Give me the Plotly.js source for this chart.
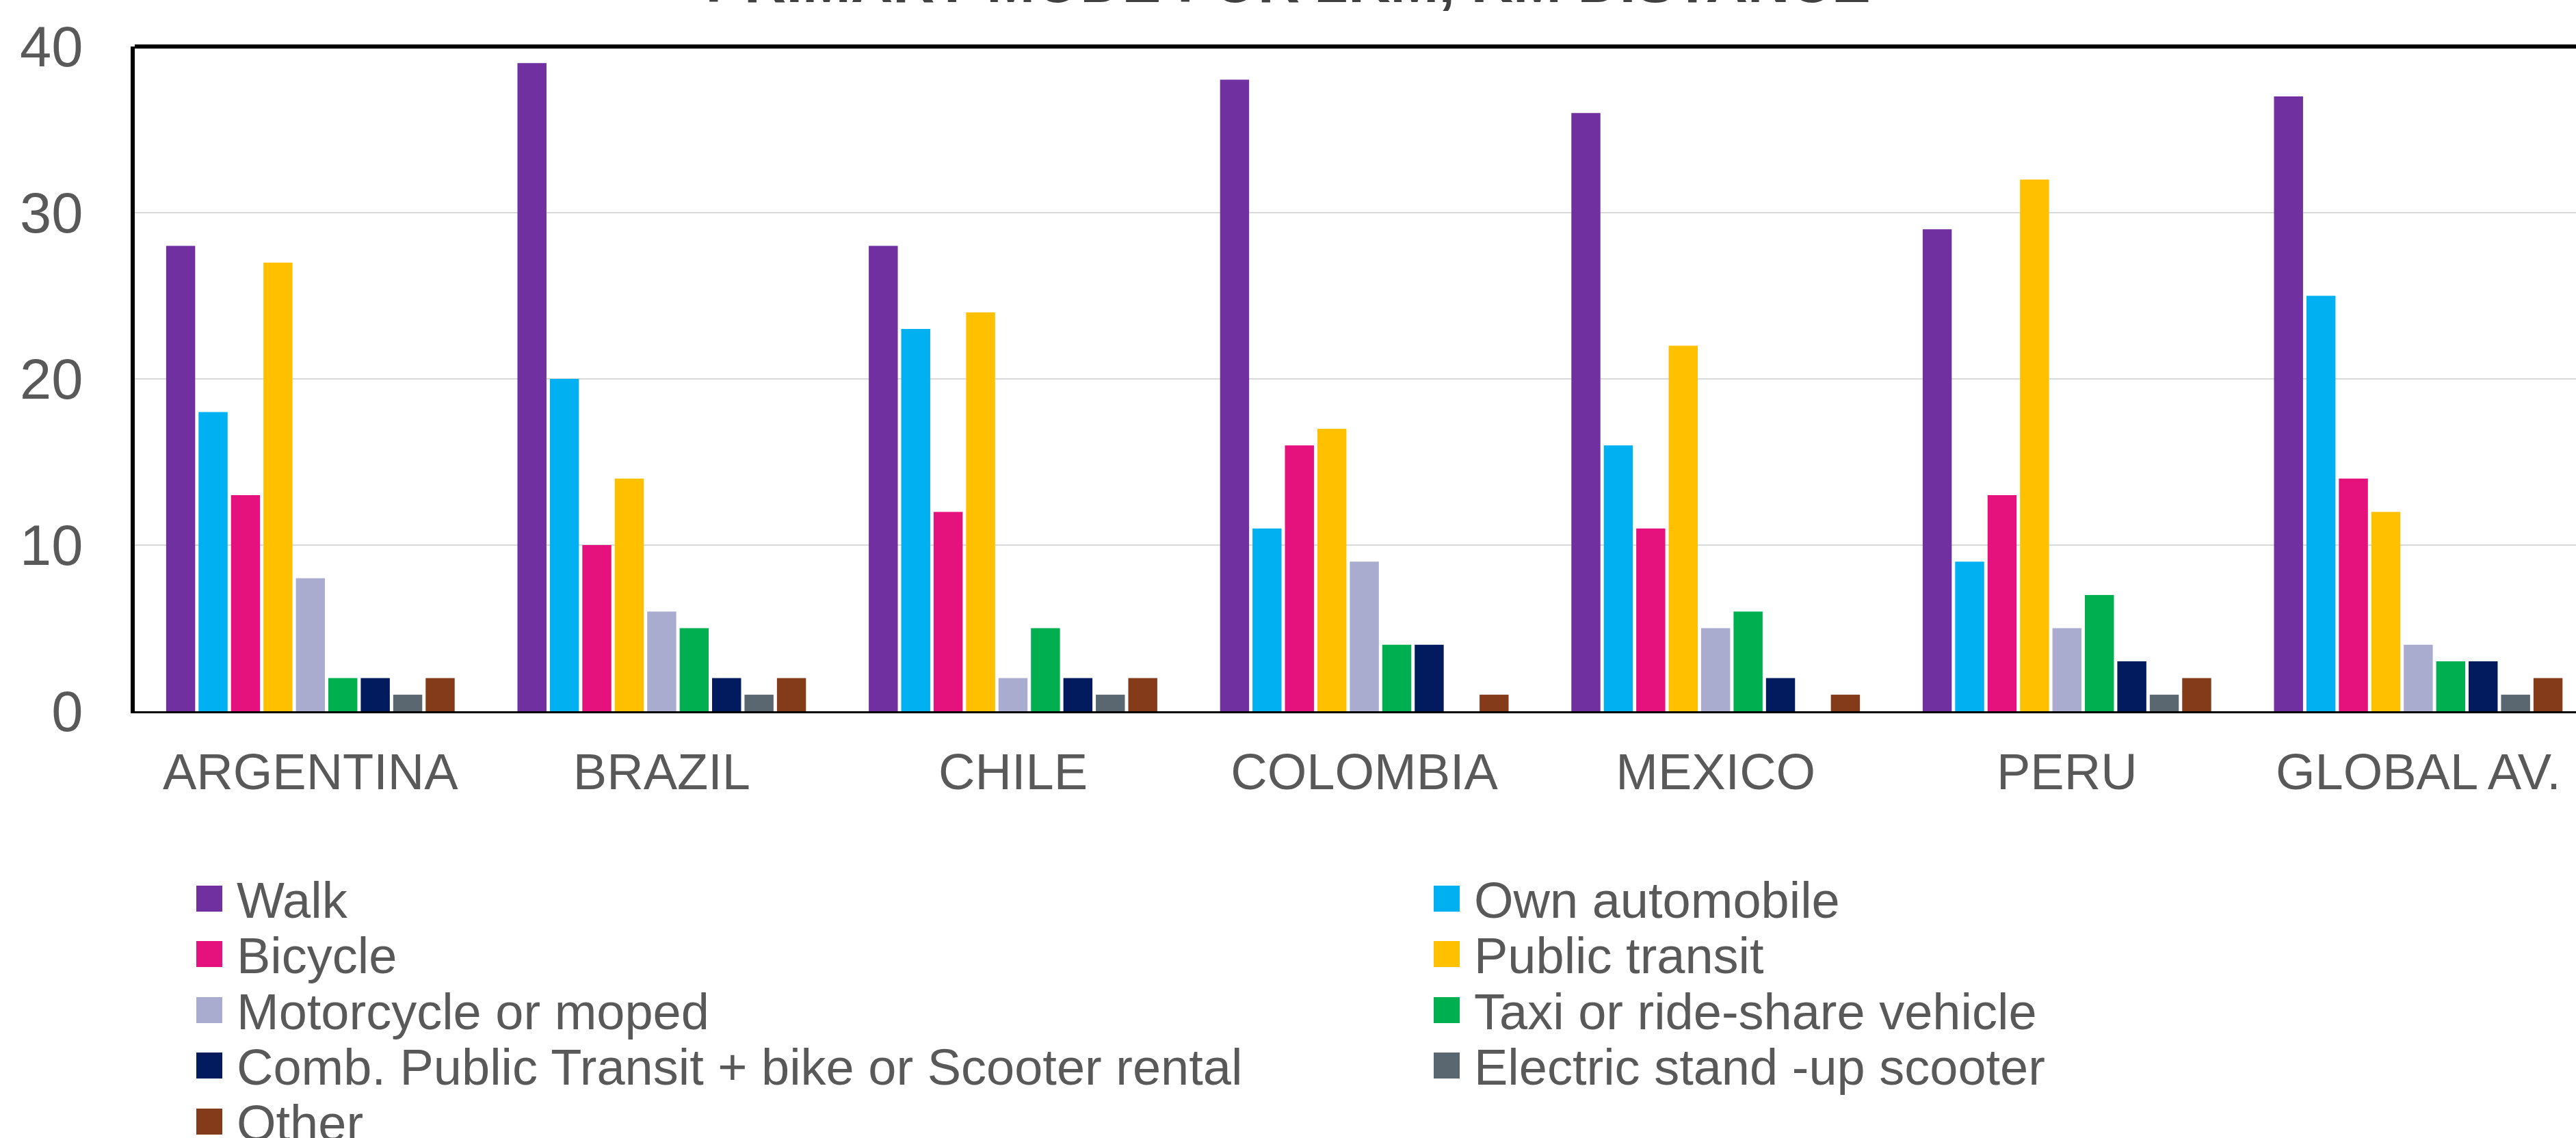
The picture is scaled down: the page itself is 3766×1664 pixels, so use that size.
<!DOCTYPE html>
<html>
<head>
<meta charset="utf-8">
<script src="https://cdn.plot.ly/plotly-3.0.1.min.js"></script>
<style>html,body{margin:0;padding:0;background:#fff;}#chart{width:3766px;height:1664px;}</style>
</head>
<body>
<div id="chart"></div>
<script>
// ---- data ----
var categories = ['ARGENTINA', 'BRAZIL', 'CHILE', 'COLOMBIA', 'MEXICO', 'PERU', 'GLOBAL AV.'];
var seriesNames = ['Walk', 'Own automobile', 'Bicycle', 'Public transit', 'Motorcycle or moped',
  'Taxi or ride-share vehicle', 'Comb. Public Transit + bike or Scooter rental', 'Electric stand -up scooter', 'Other'];
var walk        = [28, 39, 28, 38, 36, 29, 37];
var ownAuto     = [18, 20, 23, 11, 16, 9, 25];
var bicycle     = [13, 10, 12, 16, 11, 13, 14];
var publicTr    = [27, 14, 24, 17, 22, 32, 12];
var motorcycle  = [8, 6, 2, 9, 5, 5, 4];
var taxi        = [2, 5, 5, 4, 6, 7, 3];
var combined    = [2, 2, 2, 4, 2, 3, 3];
var scooter     = [1, 1, 1, 0, 0, 1, 1];
var other       = [2, 2, 2, 1, 1, 2, 2];
var yTicks      = [0, 10, 20, 30, 40];
var titleText   = 'PRIMARY MODE FOR 2KM, KM DISTANCE';

var seriesValues = [walk, ownAuto, bicycle, publicTr, motorcycle, taxi, combined, scooter, other];
var colors = ['#7030A0', '#00B0F0', '#E5117D', '#FFC000', '#A9ACCF', '#00B050', '#021A5E', '#5B6770', '#843B19'];

// ---- layout geometry (pixels) ----
var W = 3766, H = 1664;
var mL = 197, mT = 68, mB = 624, mR = 0;
var plotW = W - mL - mR, plotH = H - mT - mB;
function px2x(p) { return (p - mL) / plotW; }
function px2y(p) { return (H - mB - p) / plotH; }

var FONT = 'Liberation Sans, Arial, sans-serif';
var GREY = '#595959';

var traces = seriesNames.map(function (name, i) {
  return {
    type: 'bar', name: name, x: categories, y: seriesValues[i],
    marker: { color: colors[i], line: { width: 0 } },
    showlegend: false, hoverinfo: 'x+y+name'
  };
});

// legend drawn as swatches + labels (two columns, row-wise order)
var colX = [287, 2096];
var rowY = [1314, 1395, 1477, 1558, 1640];
var sw = 38, textGap = 22;
var shapes = [];
var annotations = [];
seriesNames.forEach(function (name, i) {
  var col = i % 2, row = Math.floor(i / 2);
  var x0 = colX[col], yc = rowY[row];
  shapes.push({
    type: 'rect', xref: 'paper', yref: 'paper',
    x0: px2x(x0), x1: px2x(x0 + sw), y0: px2y(yc + sw / 2), y1: px2y(yc - sw / 2),
    fillcolor: colors[i], line: { width: 0 }
  });
  annotations.push({
    xref: 'paper', yref: 'paper', x: px2x(x0 + sw + textGap - 2), y: px2y(yc + 2),
    xanchor: 'left', yanchor: 'middle', showarrow: false, text: name,
    font: { family: FONT, size: 74, color: GREY }, borderpad: 0
  });
});
// top frame line of the plot area
shapes.push({ type: 'line', xref: 'paper', yref: 'paper', x0: 0, x1: 1, y0: 1, y1: 1,
  line: { color: '#000000', width: 6 } });

var layout = {
  width: W, height: H,
  margin: { l: mL, r: mR, t: mT, b: mB, pad: 0 },
  paper_bgcolor: '#ffffff', plot_bgcolor: '#ffffff',
  font: { family: FONT, color: GREY },
  title: {
    text: titleText, x: 0.5, xref: 'container', xanchor: 'center',
    y: 1, yref: 'paper', yanchor: 'bottom', pad: { b: 65 },
    font: { family: FONT, size: 85, color: '#404040', weight: 'bold' }
  },
  barmode: 'group', bargap: 0.169, bargroupgap: 0.105,
  showlegend: false,
  xaxis: {
    type: 'category', range: [-0.5, 6.449], fixedrange: true,
    showline: true, linecolor: '#000000', linewidth: 3,
    showgrid: false, ticks: '', ticklabelstandoff: 22,
    tickfont: { family: FONT, size: 74, color: GREY }
  },
  yaxis: {
    range: [0, 40], tickvals: yTicks, ticktext: yTicks.map(String), fixedrange: true,
    showline: true, linecolor: '#000000', linewidth: 6,
    showgrid: true, gridcolor: '#D9D9D9', gridwidth: 2,
    zeroline: false, ticks: '', ticklabelstandoff: 53,
    tickfont: { family: FONT, size: 83, color: GREY }
  },
  shapes: shapes,
  annotations: annotations
};

Plotly.newPlot('chart', traces, layout, { staticPlot: true, displayModeBar: false });
</script>
</body>
</html>
